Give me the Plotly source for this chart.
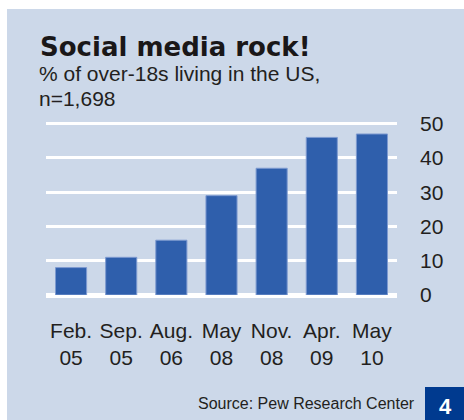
import plotly.graph_objects as go

categories = ["Feb.<br>05", "Sep.<br>05", "Aug.<br>06", "May<br>08", "Nov.<br>08", "Apr.<br>09", "May<br>10"]
values = [8, 11, 16, 29, 37, 46, 47]
y_ticks = [0, 10, 20, 30, 40, 50]

W, H = 464, 420
L, R, T, B = 46, 67, 122, 125
PW, PH = W - L - R, H - T - B

def px_x(x):
    return (x - L) / PW

def px_y(y):
    return (H - B - y) / PH

PANEL = "#ccd8e9"
BAR = "#2f5fac"
TXT = "#231f20"
FONT = "Liberation Sans, Arial, sans-serif"

fig = go.Figure()
fig.add_trace(go.Bar(
    x=categories, y=values, width=0.62,
    marker=dict(color=BAR, line=dict(color="#7d9ad0", width=1)),
    hoverinfo="skip",
))

fig.update_layout(
    width=W, height=H,
    margin=dict(l=L, r=R, t=T, b=B, pad=0),
    paper_bgcolor="white",
    plot_bgcolor=PANEL,
    showlegend=False,
    font=dict(family=FONT, color=TXT),
    xaxis=dict(
        type="category",
        range=[-0.5, 6.5],
        showgrid=False, zeroline=False, showline=False,
        ticks="", tickfont=dict(size=21, family=FONT, color=TXT),
        ticklabelstandoff=21,
        fixedrange=True,
    ),
    yaxis=dict(
        side="right",
        range=[0, 50.5],
        tickvals=y_ticks,
        showgrid=True, gridcolor="white", gridwidth=3,
        zeroline=True, zerolinecolor="white", zerolinewidth=5,
        showline=False, ticks="",
        tickfont=dict(size=21, family=FONT, color=TXT),
        ticklabelstandoff=22,
        fixedrange=True,
    ),
    shapes=[
        dict(type="rect", xref="paper", yref="paper", layer="below",
             x0=px_x(7), x1=px_x(480), y0=px_y(440), y1=px_y(9),
             fillcolor=PANEL, line=dict(width=0)),
        dict(type="rect", xref="paper", yref="paper", layer="above",
             x0=px_x(425), x1=px_x(480), y0=px_y(440), y1=px_y(387),
             fillcolor="#003a8f", line=dict(width=0)),
    ],
    annotations=[
        dict(text="<b>Social media rock!</b>", xref="paper", yref="paper",
             x=px_x(38), y=px_y(47), xanchor="left", yanchor="middle",
             showarrow=False, font=dict(family="DejaVu Sans", size=26, color="#1a1718")),
        dict(text="% of over-18s living in the US,", xref="paper", yref="paper",
             x=px_x(37), y=px_y(74), xanchor="left", yanchor="middle", align="left",
             showarrow=False, font=dict(family=FONT, size=21, color=TXT)),
        dict(text="n=1,698", xref="paper", yref="paper",
             x=px_x(37), y=px_y(99), xanchor="left", yanchor="middle", align="left",
             showarrow=False, font=dict(family=FONT, size=21, color=TXT)),
        dict(text="Source: Pew Research Center", xref="paper", yref="paper",
             x=px_x(417), y=px_y(403), xanchor="right", yanchor="middle",
             showarrow=False, font=dict(family=FONT, size=16, color=TXT)),
        dict(text="<b>4</b>", xref="paper", yref="paper",
             x=px_x(445), y=px_y(406), xanchor="center", yanchor="middle",
             showarrow=False, font=dict(family=FONT, size=22, color="white")),
    ],
)

fig.write_html("out.html")
